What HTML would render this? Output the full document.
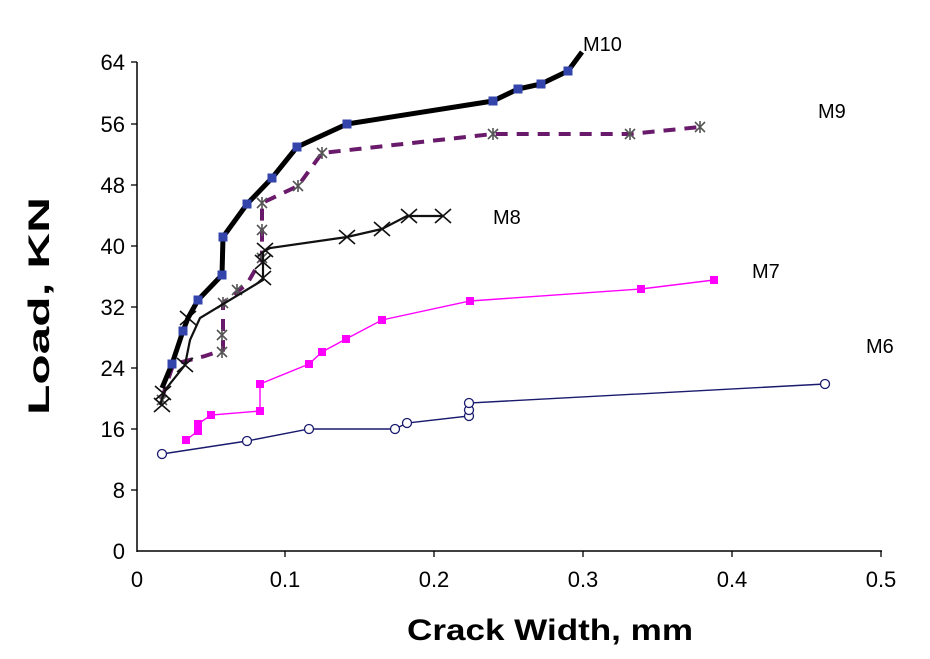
<!DOCTYPE html>
<html><head><style>body{margin:0;background:#fff}svg{display:block}</style></head><body>
<svg width="930" height="659" xmlns="http://www.w3.org/2000/svg" font-family="Liberation Sans, sans-serif">
<defs>
<g id="sq"><rect x="-4" y="-4" width="8" height="8" fill="#ff00ff"/></g>
<g id="bs"><rect x="-4.5" y="-4.5" width="9" height="9" fill="#3344aa"/></g>
<g id="ci"><circle r="4.5" fill="#fff" stroke="#1a1a6e" stroke-width="1.3"/></g>
<g id="xx"><path d="M-8,-7L8,7M-8,7L8,-7" stroke="#111" stroke-width="1.6"/></g>
<g id="st"><path d="M-5,-5L5,5M-5,5L5,-5M0,-6L0,6" stroke="#555" stroke-width="1.6"/></g>
</defs>
<line x1="137" y1="62" x2="137" y2="552" stroke="#000" stroke-width="1.5"/>
<line x1="137" y1="551" x2="882" y2="551" stroke="#000" stroke-width="1.5"/>
<g stroke="#000" stroke-width="1.3">
<line x1="131" y1="62" x2="137" y2="62"/><line x1="131" y1="124" x2="137" y2="124"/><line x1="131" y1="185" x2="137" y2="185"/><line x1="131" y1="246" x2="137" y2="246"/><line x1="131" y1="307" x2="137" y2="307"/><line x1="131" y1="368" x2="137" y2="368"/><line x1="131" y1="429" x2="137" y2="429"/><line x1="131" y1="490" x2="137" y2="490"/>
<line x1="285" y1="551" x2="285" y2="557"/><line x1="434" y1="551" x2="434" y2="557"/><line x1="583" y1="551" x2="583" y2="557"/><line x1="732" y1="551" x2="732" y2="557"/><line x1="881" y1="551" x2="881" y2="557"/>
</g>
<g font-size="22" text-anchor="end">
<text x="125" y="70">64</text><text x="125" y="132">56</text><text x="125" y="193">48</text><text x="125" y="254">40</text><text x="125" y="315">32</text><text x="125" y="376">24</text><text x="125" y="437">16</text><text x="125" y="498">8</text><text x="125" y="559">0</text>
</g>
<g font-size="22" text-anchor="middle">
<text x="137" y="587">0</text><text x="285" y="587">0.1</text><text x="434" y="587">0.2</text><text x="583" y="587">0.3</text><text x="732" y="587">0.4</text><text x="881" y="587">0.5</text>
</g>
<text x="407" y="640" font-size="30" font-weight="bold" textLength="286" lengthAdjust="spacingAndGlyphs">Crack Width, mm</text>
<text transform="translate(49,415) rotate(-90)" font-size="30" font-weight="bold" textLength="218" lengthAdjust="spacingAndGlyphs">Load, KN</text>
<g font-size="20">
<text x="583" y="51">M10</text><text x="818" y="118">M9</text><text x="493" y="224">M8</text><text x="752" y="278">M7</text><text x="866" y="353">M6</text>
</g>
<polyline fill="none" stroke="#1a1a6e" stroke-width="1.4" points="162,454 247,441 309,429 395,429 407,423 469,416 469,410 469,403 825,384"/>
<g><use href="#ci" x="162" y="454"/><use href="#ci" x="247" y="441"/><use href="#ci" x="309" y="429"/><use href="#ci" x="395" y="429"/><use href="#ci" x="407" y="423"/><use href="#ci" x="469" y="416"/><use href="#ci" x="469" y="410"/><use href="#ci" x="469" y="403"/><use href="#ci" x="825" y="384"/></g>
<polyline fill="none" stroke="#ff00ff" stroke-width="1.4" points="186,440 198,431 198,424 211,415 260,411 260,384 309,364 322,352 346,339 382,320 470,301 641,289 714,280"/>
<g><use href="#sq" x="186" y="440"/><use href="#sq" x="198" y="431"/><use href="#sq" x="198" y="424"/><use href="#sq" x="211" y="415"/><use href="#sq" x="260" y="411"/><use href="#sq" x="260" y="384"/><use href="#sq" x="309" y="364"/><use href="#sq" x="322" y="352"/><use href="#sq" x="346" y="339"/><use href="#sq" x="382" y="320"/><use href="#sq" x="470" y="301"/><use href="#sq" x="641" y="289"/><use href="#sq" x="714" y="280"/></g>
<polyline fill="none" stroke="#6a1a6a" stroke-width="4" stroke-dasharray="12,9" points="162,398 172,368 182,362 205,356 223,350 223,335 223,303 247,284 262,258 262,230 262,203 298,186 322,153 493,134 630,134 700,127"/>
<g><use href="#st" x="162" y="400"/><use href="#st" x="222" y="352"/><use href="#st" x="222" y="335"/><use href="#st" x="223" y="303"/><use href="#st" x="237" y="290"/><use href="#st" x="262" y="258"/><use href="#st" x="262" y="230"/><use href="#st" x="262" y="203"/><use href="#st" x="298" y="186"/><use href="#st" x="322" y="153"/><use href="#st" x="493" y="134"/><use href="#st" x="630" y="134"/><use href="#st" x="700" y="127"/></g>
<polyline fill="none" stroke="#111" stroke-width="2.2" points="160,405 165,390 185,365 190,340 200,318 263,280 263,262 263,252 270,248 347,237 382,229 407,216 443,216"/>
<g><use href="#xx" x="162" y="405"/><use href="#xx" x="163" y="393"/><use href="#xx" x="185" y="365"/><use href="#xx" x="188" y="318"/><use href="#xx" x="263" y="278"/><use href="#xx" x="263" y="262"/><use href="#xx" x="265" y="250"/><use href="#xx" x="347" y="237"/><use href="#xx" x="382" y="229"/><use href="#xx" x="409" y="216"/><use href="#xx" x="443" y="216"/></g>
<polyline fill="none" stroke="#000" stroke-width="5" stroke-linejoin="round" points="162,388 172,364 183,331 188,318 198,300 222,275 223,237 247,204 272,178 297,147 347,124 493,101 518,89 541,84 568,71 582,52"/>
<g><use href="#bs" x="172" y="364"/><use href="#bs" x="183" y="331"/><use href="#bs" x="198" y="300"/><use href="#bs" x="222" y="275"/><use href="#bs" x="223" y="237"/><use href="#bs" x="247" y="204"/><use href="#bs" x="272" y="178"/><use href="#bs" x="297" y="147"/><use href="#bs" x="347" y="124"/><use href="#bs" x="493" y="101"/><use href="#bs" x="518" y="89"/><use href="#bs" x="541" y="84"/><use href="#bs" x="568" y="71"/></g>
</svg>
</body></html>
